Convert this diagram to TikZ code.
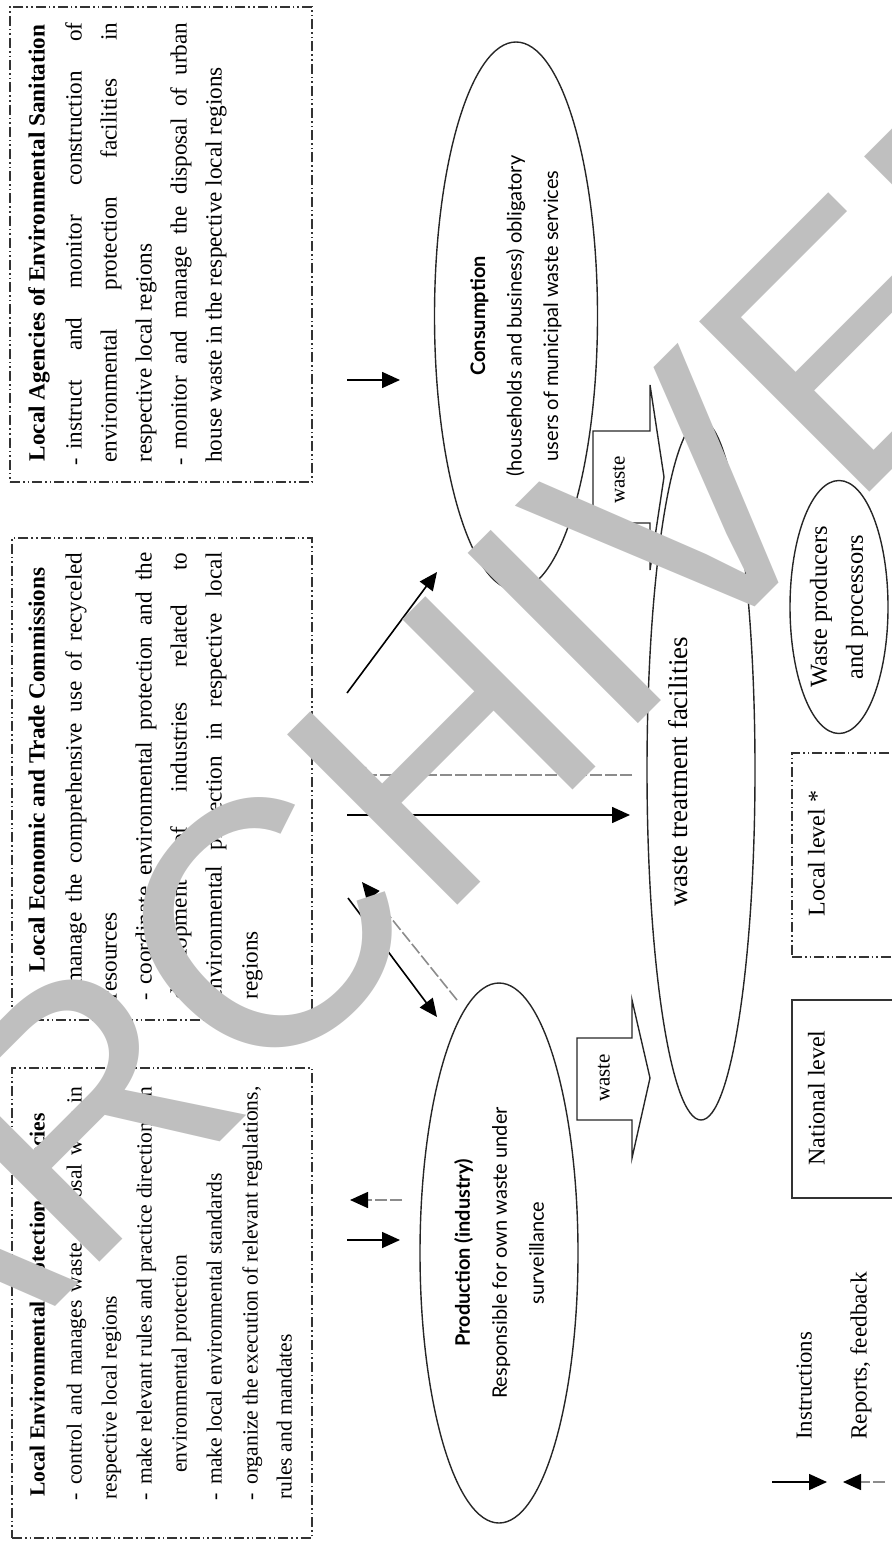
\documentclass[tikz,border=0pt]{standalone}
\usepackage{fontspec}
\setmainfont{Liberation Serif}
\newfontfamily\wmfont{Liberation Sans}
\newfontfamily\ellfont{Lato}
\usetikzlibrary{shapes.geometric,arrows.meta}
\begin{document}
\begin{tikzpicture}[x=0.5pt,y=-0.5pt,
  txtA/.style={inner sep=0pt, rotate=90, anchor=mid west, font=\fontsize{11.6}{14}\selectfont},
  txtB/.style={inner sep=0pt, rotate=90, anchor=mid west, font=\fontsize{10.8}{13}\selectfont},
  hdrA/.style={inner sep=0pt, rotate=90, anchor=mid, font=\bfseries\fontsize{11.6}{14}\selectfont},
  hdrB/.style={inner sep=0pt, rotate=90, anchor=mid, font=\bfseries\fontsize{10.8}{13}\selectfont},
  bul/.style={inner sep=0pt, rotate=90, anchor=mid, font=\fontsize{11}{13}\selectfont},
  dashbox/.style={draw=black!80, line width=0.7pt, inner sep=0pt,
    dash pattern=on 5pt off 1.5pt on 0.8pt off 1.5pt on 0.8pt off 1.5pt},
  solidbox/.style={draw=black!80, line width=0.7pt, inner sep=0pt},
  ell/.style={ellipse, draw=black!85, line width=0.7pt, rotate=90, inner sep=0pt, align=center},
  lbl/.style={inner sep=0pt, rotate=90, anchor=mid, align=center},
  instr/.style={-{Triangle[length=9pt,width=8pt]}, line width=0.8pt},
  rep/.style={-{Triangle[length=9pt,width=8pt,color=black]}, draw=black!45, line width=0.8pt,
    dash pattern=on 6pt off 1.5pt},
  blockarrow/.style={draw=black!85, line width=0.7pt},
  wm/.style={inner sep=0pt, rotate=45, text=black!25, font=\wmfont\fontsize{175}{175}\selectfont}
]
\useasboundingbox (0,0) rectangle (891,1551);

% ---------- boxes ----------
\node[dashbox, minimum width=151pt, minimum height=237.5pt] (box1) at (161,244.5) {};
\node[dashbox, minimum width=150pt, minimum height=241pt] (box2) at (162,779) {};
\node[dashbox, minimum width=150pt, minimum height=235pt] (box3) at (162,1303) {};

% box 1 text
\node[hdrA] (b1h) at (40,243) {Local Agencies of Environmental Sanitation};
\node[bul] (b1d1) at (77,462) {-};
\node[txtA] (b1l1) at (77,450) {\makebox[213.5pt][s]{instruct and monitor construction of}};
\node[txtA] (b1l2) at (112,463) {\makebox[220pt][s]{environmental protection facilities in}};
\node[txtA] (b1l3) at (147,463) {respective local regions};
\node[bul] (b1d2) at (182,462) {-};
\node[txtA] (b1l4) at (182,450) {\makebox[213.5pt][s]{monitor and manage the disposal of urban}};
\node[txtA] (b1l5) at (217,463) {house waste in the respective local regions};

% box 2 text
\node[hdrA] (b2h) at (40,770) {Local Economic and Trade Commissions};
\node[bul] (b2d1) at (77,997) {-};
\node[txtA] (b2l1) at (77,985) {\makebox[216pt][s]{manage the comprehensive use of recyceled}};
\node[txtA] (b2l2) at (112,1000) {resources};
\node[bul] (b2d2) at (147,997) {-};
\node[txtA] (b2l3) at (147,985) {\makebox[216pt][s]{coordinate environmental protection and the}};
\node[txtA] (b2l4) at (182,1000) {\makebox[223.5pt][s]{development of industries related to}};
\node[txtA] (b2l5) at (217,1000) {\makebox[223.5pt][s]{environmental protection in respective local}};
\node[txtA] (b2l6) at (253,1000) {regions};

% box 3 text
\node[hdrB] (b3h) at (40,1305) {Local Environmental Protection Agencies};
\node[bul] (b3d1) at (77,1497) {-};
\node[txtB] (b3l1) at (77,1485) {\makebox[199pt][s]{control and manages waste disposal work in}};
\node[txtB] (b3l2) at (112,1500) {respective local regions};
\node[bul] (b3d2) at (147,1497) {-};
\node[txtB] (b3l3) at (147,1485) {\makebox[199pt][s]{make relevant rules and practice directions on}};
\node[txtB] (b3l4) at (182,1473) {environmental protection};
\node[bul] (b3d3) at (217,1497) {-};
\node[txtB] (b3l5) at (217,1485) {make local environmental standards};
\node[bul] (b3d4) at (253,1497) {-};
\node[txtB] (b3l6) at (253,1485) {\makebox[199pt][s]{organize the execution of relevant regulations,}};
\node[txtB] (b3l7) at (287,1500) {rules and mandates};

% ---------- ellipses ----------
\node[ell, minimum width=274pt, minimum height=81.5pt,
  font=\ellfont\fontsize{10}{18.25}\selectfont] (cons) at (516,316)
  {\textbf{Consumption}\\(households and business) obligatory\\users of municipal waste services};
\node[ell, minimum width=270pt, minimum height=79pt,
  font=\ellfont\fontsize{10}{18.5}\selectfont] (prod) at (499,1253)
  {\textbf{Production (industry)}\\Responsible for own waste under\\surveillance};
\node[ell, minimum width=350pt, minimum height=54pt] (wtf) at (701,770) {};
\node[lbl, font=\fontsize{13.5}{16}\selectfont] (wtfl) at (683,772) {waste treatment facilities};
\node[ell, minimum width=126.5pt, minimum height=49pt,
  font=\fontsize{12.2}{18}\selectfont] (wpp) at (839,607) {Waste producers\\and processors};

% ---------- level boxes ----------
\node[dashbox, minimum width=56.5pt, minimum height=102pt] (localbox) at (848.5,855) {};
\node[lbl, font=\fontsize{12}{14}\selectfont] (localtxt) at (820,853.5) {Local level *};
\node[solidbox, minimum width=56.5pt, minimum height=99pt] (natbox) at (848.5,1099) {};
\node[lbl, font=\fontsize{12}{14}\selectfont] (nattxt) at (820,1098) {National level};

% ---------- waste block arrows ----------
\draw[blockarrow] (593,431) -- (650,431) -- (650,385) -- (664,477) -- (650,570) -- (650,523) -- (593,523) -- cycle;
\node[lbl, font=\fontsize{10.5}{12}\selectfont] (waste1) at (620,480) {waste};
\draw[blockarrow] (577,1038) -- (632,1038) -- (632,1000) -- (650,1078) -- (632,1158) -- (632,1120) -- (577,1120) -- cycle;
\node[lbl, font=\fontsize{10.5}{12}\selectfont] (waste2) at (605,1078) {waste};

% ---------- connectors ----------
\coordinate (a1s) at (347,380);  \coordinate (a1e) at (400,380);
\coordinate (a2s) at (347,693);  \coordinate (a2e) at (437,572);
\coordinate (a3s) at (632,775);  \coordinate (a3e) at (348,775);
\coordinate (a4s) at (347,815);  \coordinate (a4e) at (630,815);
\coordinate (a5s) at (348,898);  \coordinate (a5e) at (437,1017);
\coordinate (a6s) at (457,1000); \coordinate (a6e) at (362,882);
\coordinate (a7s) at (402,1200); \coordinate (a7e) at (350,1200);
\coordinate (a8s) at (347,1240); \coordinate (a8e) at (400,1240);
\draw[instr] (a1s) -- (a1e);
\draw[instr] (a2s) -- (a2e);
\draw[rep] (a3s) -- (a3e);
\draw[instr] (a4s) -- (a4e);
\draw[instr] (a5s) -- (a5e);
\draw[rep] (a6s) -- (a6e);
\draw[rep] (a7s) -- (a7e);
\draw[instr] (a8s) -- (a8e);

% ---------- legend ----------
\coordinate (l1s) at (772,1482); \coordinate (l1e) at (827,1482);
\coordinate (l2s) at (885,1482); \coordinate (l2e) at (843,1482);
\draw[instr] (l1s) -- (l1e);
\draw[rep] (l2s) -- (l2e);
\node[txtA, font=\fontsize{11.4}{14}\selectfont] (legi) at (807,1440) {Instructions};
\node[txtA, font=\fontsize{11.6}{14}\selectfont] (legr) at (862,1440) {Reports, feedback};

% ---------- watermark ----------
\node[wm] (wmark) at (469,723) {ARCHIVED};
\end{tikzpicture}
\end{document}
